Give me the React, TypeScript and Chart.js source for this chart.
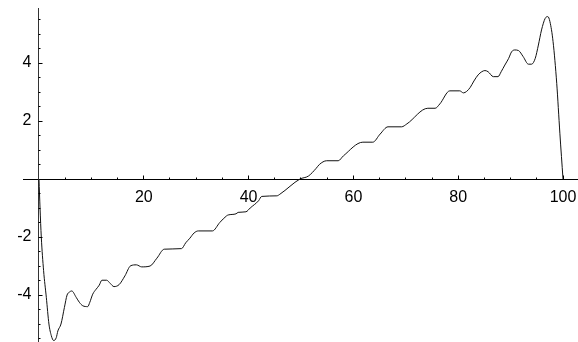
import { useEffect, useRef } from 'react';
import { Chart, registerables } from 'chart.js';

Chart.register(...registerables);

// curve samples
const xs = [
  0, 0.2, 0.44, 0.88, 1.4, 1.9, 2.35, 2.8, 3.3, 3.6, 4.2, 4.85, 5.36, 5.8, 6.25, 7.1, 7.7, 8.35, 9.3, 9.7,
  10.26, 10.9, 11.5, 12.0, 12.9, 13.6, 14.3, 15.3, 16.4, 17.5, 18.6, 19.6, 21.2, 22.5, 23.9, 27.2, 28.0, 28.8, 29.6, 30.4,
  33.1, 34.5, 35.8, 36.1, 37.6, 38.0, 39.5, 40.3, 41.9, 42.5, 45.4, 46.0, 49.8, 51.4, 52.9, 53.5, 54.9, 57.1, 58.1, 61.8,
  63.7, 65.1, 66.6, 69.2, 70.2, 74.2, 75.6, 76.5, 78.4, 80.3, 81.0, 81.6, 82.3, 83.0, 83.8, 84.5, 85.1, 85.7, 86.7, 87.6,
  88.2, 88.9, 89.6, 90.2, 90.8, 91.5, 92.4, 93.4, 94.0, 94.7, 95.3, 95.9, 96.6, 97.1, 97.5, 98.1, 98.8, 99.4, 100,
];
const ys = [
  0, -1.0, -2.0, -3.16, -4.08, -5.0, -5.4, -5.57, -5.47, -5.24, -5.0, -4.43, -4.0, -3.9, -3.86, -4.08, -4.25, -4.37, -4.4, -4.25,
  -3.97, -3.8, -3.66, -3.49, -3.49, -3.6, -3.71, -3.64, -3.34, -2.99, -2.96, -3.03, -3.0, -2.73, -2.42, -2.4, -2.2, -2.04, -1.86, -1.79,
  -1.79, -1.5, -1.27, -1.24, -1.2, -1.15, -1.13, -1.0, -0.75, -0.6, -0.58, -0.52, 0, 0.1, 0.37, 0.5, 0.63, 0.63, 0.8, 1.27,
  1.27, 1.55, 1.8, 1.8, 1.9, 2.44, 2.44, 2.59, 3.04, 3.04, 2.97, 3.02, 3.16, 3.38, 3.59, 3.7, 3.74, 3.7, 3.53, 3.53,
  3.7, 3.93, 4.15, 4.39, 4.45, 4.43, 4.22, 3.96, 3.96, 4.16, 4.62, 5.14, 5.54, 5.6, 5.43, 4.74, 3.3, 1.58, 0,
];

const xTickLabels = [20, 40, 60, 80, 100];
const yTickLabels = [-4, -2, 2, 4];
const xMinorTicks = [5, 10, 15, 20, 25, 30, 35, 40, 45, 50, 55, 60, 65, 70, 75, 80, 85, 90, 95, 100];
const yMinorTicks = [
  -5.5, -5, -4.5, -4, -3.5, -3, -2.5, -2, -1.5, -1, -0.5, 0.5, 1, 1.5, 2, 2.5, 3, 3.5, 4, 4.5, 5, 5.5,
];

const tickMarks = {
  id: 'tickMarks',
  afterDraw(chart: any) {
    const { ctx } = chart;
    const sx = chart.scales.x;
    const sy = chart.scales.y;
    const ax = Math.round(sy.getPixelForValue(0) - 0.5) + 0.5;
    const ay = Math.round(sx.getPixelForValue(0) - 0.5) + 0.5;
    ctx.save();
    ctx.strokeStyle = '#000';
    ctx.lineWidth = 1;
    ctx.beginPath();
    for (const v of xMinorTicks) {
      const px = Math.round(sx.getPixelForValue(v) - 0.5) + 0.5;
      const len = xTickLabels.includes(v) ? 4 : 2;
      ctx.moveTo(px, ax);
      ctx.lineTo(px, ax - len);
    }
    for (const v of yMinorTicks) {
      const py = Math.round(sy.getPixelForValue(v) - 0.5) + 0.5;
      const len = yTickLabels.includes(v) ? 4 : 2;
      ctx.moveTo(ay, py);
      ctx.lineTo(ay + len, py);
    }
    ctx.stroke();
    // y tick labels (left of the centred y axis)
    ctx.fillStyle = '#000';
    ctx.font = '16px "Liberation Sans"';
    ctx.textAlign = 'right';
    ctx.textBaseline = 'middle';
    for (const v of yTickLabels) {
      ctx.fillText(String(v), ay - 7, sy.getPixelForValue(v));
    }
    ctx.restore();
  },
};

export default function App() {
  const ref = useRef<HTMLCanvasElement>(null);

  useEffect(() => {
    if (!ref.current) return;
    const points = xs.map((x, i) => ({ x, y: ys[i] }));
    const chart = new Chart(ref.current, {
      type: 'line',
      data: {
        datasets: [
          {
            data: points,
            borderColor: '#111',
            borderWidth: 1,
            pointRadius: 0,
            fill: false,
            cubicInterpolationMode: 'monotone',
          },
        ],
      },
      options: {
        animation: false,
        responsive: false,
        maintainAspectRatio: false,
        layout: { padding: { left: 23, top: 8, right: 0, bottom: 0 } },
        plugins: { legend: { display: false }, tooltip: { enabled: false } },
        scales: {
          x: {
            type: 'linear',
            position: { y: 0 } as any,
            min: -3.05,
            max: 102.86,
            grid: { display: false, drawTicks: false },
            border: { display: true, color: '#000', width: 1 },
            afterBuildTicks: (scale: any) => {
              scale.ticks = xTickLabels.map((v) => ({ value: v }));
            },
            afterFit: (scale: any) => {
              scale.paddingLeft = 0;
              scale.paddingRight = 0;
            },
            ticks: {
              autoSkip: false,
              maxRotation: 0,
              padding: 9,
              color: '#000',
              font: { family: 'Liberation Sans', size: 16 },
              callback: (v: any) => String(v),
            },
          },
          y: {
            type: 'linear',
            position: { x: 0 } as any,
            min: -5.62,
            max: 5.897,
            grid: { display: false, drawTicks: false },
            border: { display: true, color: '#333', width: 1 },
            ticks: { display: false },
          },
        },
      },
      plugins: [tickMarks],
    });
    return () => chart.destroy();
  }, []);

  return (
    <div style={{ position: 'fixed', left: 0, top: 0, width: 578, height: 342, background: '#fff' }}>
      <canvas ref={ref} width={578} height={342} style={{ width: 578, height: 342 }} />
    </div>
  );
}
